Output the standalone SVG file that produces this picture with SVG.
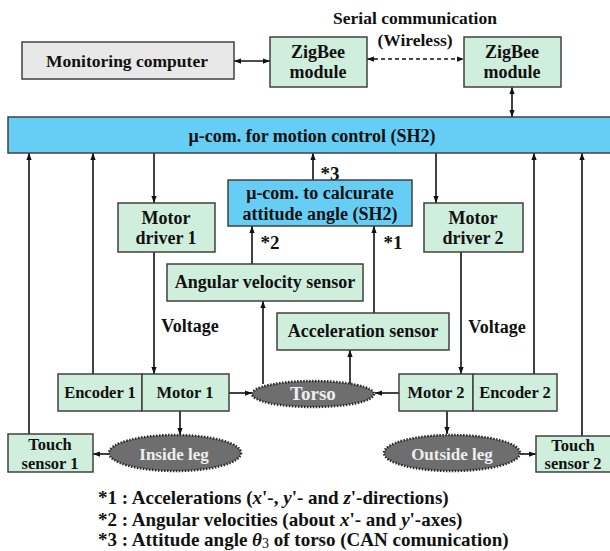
<svg xmlns="http://www.w3.org/2000/svg" width="610" height="551" viewBox="0 0 610 551">
<style>
text{font-family:"Liberation Serif","Times New Roman",serif;font-weight:bold;fill:#111;text-anchor:middle;dominant-baseline:central}
.g{fill:#d0eedc;stroke:#404040;stroke-width:1.5}
.b{fill:#66cef5;stroke:#404040;stroke-width:1.5}
.e{fill:#6e6e6e;stroke:#2a2a2a;stroke-width:2.5;stroke-dasharray:1.5 1.5}
.et{fill:#eeeeee;font-size:17px}
.t{font-size:18px}
.s{font-size:16.5px}
.c{fill:none;stroke:#111;stroke-width:1.6}
.fn{font-size:19px;text-anchor:start;dominant-baseline:auto}
</style>
<defs>
<marker id="a" viewBox="0 0 8 6" refX="8" refY="3" markerWidth="7" markerHeight="5.5" markerUnits="userSpaceOnUse" orient="auto-start-reverse"><path d="M0,0 L8,3 L0,6 z" fill="#111"/></marker>
</defs>
<g id="connectors">
<line class="c" x1="234" y1="61" x2="270" y2="61" marker-start="url(#a)" marker-end="url(#a)"/>
<line class="c" x1="367" y1="59" x2="464" y2="59" stroke-dasharray="4 3" marker-start="url(#a)" marker-end="url(#a)"/>
<line class="c" x1="512" y1="87" x2="512" y2="117" marker-start="url(#a)" marker-end="url(#a)"/>
<line class="c" x1="29" y1="434" x2="29" y2="153" marker-end="url(#a)"/>
<line class="c" x1="93" y1="374" x2="93" y2="153" marker-end="url(#a)"/>
<line class="c" x1="154" y1="153" x2="154" y2="203" marker-end="url(#a)"/>
<line class="c" x1="154" y1="252" x2="154" y2="374" marker-end="url(#a)"/>
<line class="c" x1="313" y1="180" x2="313" y2="153" marker-end="url(#a)"/>
<line class="c" x1="436" y1="153" x2="436" y2="203" marker-end="url(#a)"/>
<line class="c" x1="461" y1="252" x2="461" y2="374" marker-end="url(#a)"/>
<line class="c" x1="534" y1="374" x2="534" y2="153" marker-end="url(#a)"/>
<line class="c" x1="582" y1="436" x2="582" y2="153" marker-end="url(#a)"/>
<line class="c" x1="252" y1="264" x2="252" y2="226" marker-end="url(#a)"/>
<line class="c" x1="374" y1="313" x2="374" y2="226" marker-end="url(#a)"/>
<line class="c" x1="263" y1="384" x2="263" y2="301" marker-end="url(#a)"/>
<line class="c" x1="350" y1="384" x2="350" y2="350" marker-end="url(#a)"/>
<line class="c" x1="229" y1="393" x2="252" y2="393" marker-end="url(#a)"/>
<line class="c" x1="399" y1="393" x2="375" y2="393" marker-end="url(#a)"/>
<line class="c" x1="180" y1="411" x2="180" y2="435" marker-end="url(#a)"/>
<line class="c" x1="447" y1="411" x2="447" y2="434" marker-end="url(#a)"/>
<line class="c" x1="109" y1="454" x2="93" y2="454" marker-end="url(#a)"/>
<line class="c" x1="520" y1="454" x2="536" y2="454" marker-end="url(#a)"/>
</g>
<g id="labels">
<text x="415" y="18" style="font-size:17.5px">Serial communication</text>
<text x="415" y="40" style="font-size:17.5px">(Wireless)</text>
<text x="330" y="173" style="font-size:19px">*3</text>
<text x="270" y="242" style="font-size:19px">*2</text>
<text x="393" y="242" style="font-size:19px">*1</text>
<text x="190" y="326" class="t">Voltage</text>
<text x="497" y="327" class="t">Voltage</text>
</g>
<g id="monitoring"><rect x="22" y="42" width="212" height="37" fill="#e8e8e8" stroke="#404040" stroke-width="1.5"/><text x="127" y="61" style="font-size:17.5px">Monitoring computer</text></g>
<g id="zigbee1"><rect class="g" x="270" y="37" width="97" height="50"/><text x="318" y="52" class="t">ZigBee</text><text x="318" y="72" class="t">module</text></g>
<g id="zigbee2"><rect class="g" x="464" y="37" width="97" height="50"/><text x="512" y="52" class="t">ZigBee</text><text x="512" y="72" class="t">module</text></g>
<g id="mcom"><rect class="b" x="8" y="117" width="606" height="36"/><text x="312" y="136" class="t">μ-com. for motion control (SH2)</text></g>
<g id="attitude"><rect class="b" x="228" y="180" width="184" height="46"/><text x="320" y="193" class="t">μ-com. to calcurate</text><text x="320" y="214" class="t">attitude angle (SH2)</text></g>
<g id="driver1"><rect class="g" x="118" y="203" width="97" height="49"/><text x="166" y="218" class="t">Motor</text><text x="166" y="238" class="t">driver 1</text></g>
<g id="driver2"><rect class="g" x="424" y="203" width="99" height="49"/><text x="473" y="218" class="t">Motor</text><text x="473" y="238" class="t">driver 2</text></g>
<g id="angular"><rect class="g" x="167" y="264" width="196" height="37"/><text x="265" y="282" class="t">Angular velocity sensor</text></g>
<g id="accel"><rect class="g" x="277" y="313" width="172" height="37"/><text x="363" y="331" class="t">Acceleration sensor</text></g>
<g id="encmot1"><rect class="g" x="58" y="374" width="84" height="37"/><rect class="g" x="142" y="374" width="87" height="37"/><text x="100" y="392" class="s">Encoder 1</text><text x="185" y="392" class="s">Motor 1</text></g>
<g id="encmot2"><rect class="g" x="399" y="374" width="74" height="37"/><rect class="g" x="473" y="374" width="84" height="37"/><text x="436" y="392" class="s">Motor 2</text><text x="515" y="392" class="s">Encoder 2</text></g>
<g id="torso"><ellipse class="e" cx="313" cy="394" rx="61" ry="13"/><text x="313" y="393" class="et" style="font-size:19px">Torso</text></g>
<g id="insideleg"><ellipse class="e" cx="175" cy="453" rx="66" ry="18"/><text x="174" y="454" class="et">Inside leg</text></g>
<g id="outsideleg"><ellipse class="e" cx="452" cy="453" rx="68" ry="18"/><text x="452" y="454" class="et">Outside leg</text></g>
<g id="touch1"><rect class="g" x="8" y="434" width="85" height="38"/><text x="50" y="444" class="s">Touch</text><text x="50" y="463" class="s">sensor 1</text></g>
<g id="touch2"><rect class="g" x="536" y="436" width="76" height="36"/><text x="573" y="445" class="s">Touch</text><text x="573" y="463" class="s">sensor 2</text></g>
<g id="footnotes">
<text class="fn" x="98" y="504">*1 : Accelerations (<tspan font-style="italic">x</tspan>'-, <tspan font-style="italic">y</tspan>'- and <tspan font-style="italic">z</tspan>'-directions)</text>
<text class="fn" x="98" y="526">*2 : Angular velocities (about <tspan font-style="italic">x</tspan>'- and <tspan font-style="italic">y</tspan>'-axes)</text>
<text class="fn" x="98" y="546">*3 : Attitude angle <tspan font-style="italic">θ</tspan><tspan font-weight="normal" font-size="14" dy="2">3</tspan><tspan dy="-2"> of torso (CAN comunication)</tspan></text>
</g>
</svg>
